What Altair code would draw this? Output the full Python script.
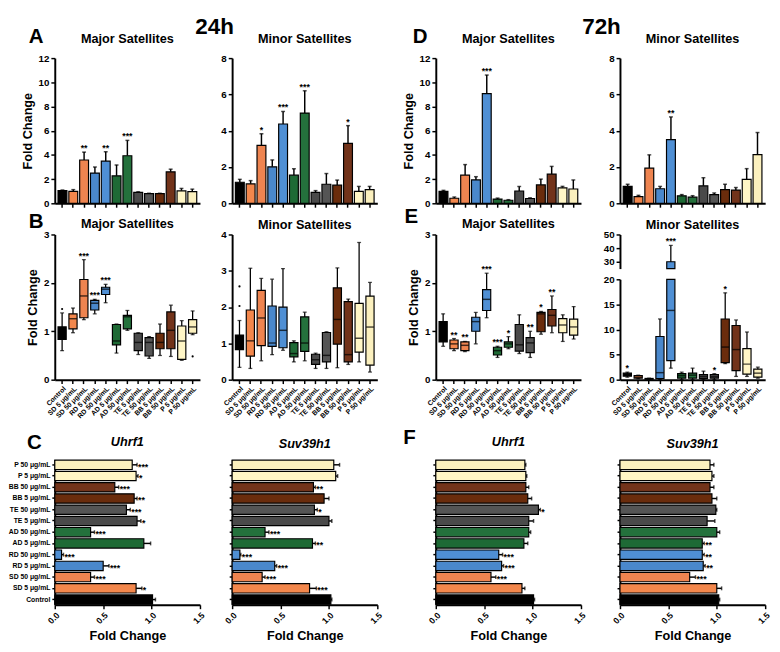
import altair as alt
import pandas as pd

FONT = "Liberation Sans"

cats = ["Control", "SD 5 μg/mL", "SD 50 μg/mL", "RD 5 μg/mL", "RD 50 μg/mL",
        "AD 5 μg/mL", "AD 50 μg/mL", "TE 5 μg/mL", "TE 50 μg/mL",
        "BB 5 μg/mL", "BB 50 μg/mL", "P 5 μg/mL", "P 50 μg/mL"]
colors = ["#000000", "#F3874C", "#EE8450", "#4A88CC", "#4F8FD4", "#1E6A35", "#24713C",
          "#4A4A4A", "#555555", "#6A2C0C", "#72331A", "#FFF6C6", "#FBF0BE"]
letters = ["A", "B", "C", "D", "E", "F"]
group_titles = ["24h", "72h"]
sat_titles = ["Major Satellites", "Minor Satellites"]
gene_titles = ["Uhrf1", "Suv39h1"]
ytitle = "Fold Change"

# ---- Row A / D : bar charts (mean, error, significance)
a_maj_mean = [1.05, 0.98, 3.58, 2.50, 3.48, 2.27, 3.93, 0.90, 0.80, 0.80, 2.60, 1.03, 0.97]
a_maj_err = [0.05, 0.15, 0.65, 0.50, 0.78, 0.90, 1.27, 0.05, 0.03, 0.03, 0.22, 0.20, 0.20]
a_maj_sig = ["", "", "**", "", "**", "", "***", "", "", "", "", "", ""]
a_min_mean = [1.16, 1.07, 3.19, 2.01, 4.37, 1.55, 4.97, 0.60, 1.05, 1.00, 3.30, 0.66, 0.75]
a_min_err = [0.16, 0.18, 0.64, 0.38, 0.69, 0.35, 1.23, 0.10, 0.59, 0.28, 0.98, 0.27, 0.18]
a_min_sig = ["", "", "*", "", "***", "", "***", "", "", "", "*", "", ""]
d_maj_mean = [0.99, 0.42, 2.33, 1.93, 9.07, 0.35, 0.25, 1.02, 0.40, 1.52, 2.41, 1.28, 1.18]
d_maj_err = [0.08, 0.10, 0.87, 0.27, 1.53, 0.08, 0.05, 0.37, 0.05, 0.48, 0.64, 0.12, 0.75]
d_maj_sig = ["", "", "", "", "***", "", "", "", "", "", "", "", ""]
d_min_mean = [0.93, 0.37, 1.94, 0.80, 3.51, 0.41, 0.34, 0.96, 0.48, 0.75, 0.73, 1.32, 2.68]
d_min_err = [0.12, 0.07, 0.73, 0.13, 1.25, 0.07, 0.08, 0.45, 0.09, 0.30, 0.14, 0.59, 1.22]
d_min_sig = ["", "", "", "", "**", "", "", "", "", "", "", "", ""]

# ---- Row B / E : box plots (whisker low, q1, median, q3, whisker high)
b_maj_lo = [0.60, 0.97, 1.24, 1.36, 1.59, 0.55, 1.02, 0.52, 0.44, 0.50, 0.48, 0.40, 0.93]
b_maj_q1 = [0.83, 1.05, 1.28, 1.44, 1.76, 0.72, 1.05, 0.60, 0.49, 0.64, 0.64, 0.42, 0.96]
b_maj_med = [0.97, 1.26, 1.73, 1.58, 1.87, 0.80, 1.30, 0.77, 0.77, 0.77, 1.02, 0.80, 1.09]
b_maj_q3 = [1.09, 1.36, 2.07, 1.64, 1.91, 1.14, 1.33, 0.96, 0.87, 0.96, 1.40, 1.11, 1.24]
b_maj_hi = [1.38, 1.48, 2.48, 1.66, 1.97, 1.15, 1.43, 0.97, 0.89, 1.15, 1.54, 1.22, 1.42]
b_maj_sig = ["", "", "***", "***", "***", "", "", "", "", "", "", "", ""]
b_maj_out_cat = ["Control", "P 50 μg/mL"]
b_maj_out_val = [1.46, 0.48]

b_min_lo = [0.34, 0.31, 0.52, 0.69, 0.81, 0.49, 0.52, 0.31, 0.31, 0.33, 0.42, 0.49, 0.21]
b_min_q1 = [0.83, 0.65, 0.94, 0.92, 0.88, 0.63, 0.78, 0.42, 0.49, 0.98, 0.49, 0.76, 0.40]
b_min_med = [1.05, 1.07, 1.70, 1.01, 1.36, 0.72, 1.01, 0.55, 0.67, 1.66, 0.69, 1.14, 1.45]
b_min_q3 = [1.23, 1.92, 2.46, 2.03, 2.00, 1.02, 1.73, 0.70, 1.30, 2.53, 2.15, 2.10, 2.30]
b_min_hi = [1.63, 3.07, 2.79, 2.77, 3.06, 1.07, 1.86, 0.73, 1.32, 3.08, 2.22, 3.78, 2.68]
b_min_sig = ["", "", "", "", "", "", "", "", "", "", "", "", ""]
b_min_out_cat = ["Control", "Control"]
b_min_out_val = [2.57, 2.03]

e_maj_lo = [0.69, 0.60, 0.58, 0.74, 1.28, 0.46, 0.64, 0.54, 0.46, 0.94, 0.97, 0.79, 0.84]
e_maj_q1 = [0.78, 0.64, 0.60, 1.00, 1.43, 0.51, 0.67, 0.59, 0.56, 0.99, 1.11, 0.97, 0.92]
e_maj_med = [1.00, 0.74, 0.71, 1.20, 1.66, 0.60, 0.74, 0.72, 0.76, 1.36, 1.33, 1.13, 1.09]
e_maj_q3 = [1.20, 0.82, 0.78, 1.29, 1.86, 0.67, 0.78, 1.14, 0.87, 1.39, 1.45, 1.26, 1.25]
e_maj_hi = [1.36, 0.85, 0.79, 1.39, 2.20, 0.69, 0.89, 1.34, 1.00, 1.41, 1.73, 1.34, 1.51]
e_maj_sig = ["", "**", "**", "", "***", "***", "*", "", "**", "*", "**", "", ""]

e_min_lo = [0.50, 0.20, 0.05, 0.00, 2.3, 0.00, 0.00, 0.00, 0.00, 3.2, 0.65, 0.65, 0.30]
e_min_q1 = [0.70, 0.30, 0.10, 0.20, 3.8, 0.30, 0.30, 0.20, 0.30, 3.4, 1.80, 1.10, 0.50]
e_min_med = [1.00, 0.50, 0.15, 1.40, 13.8, 0.80, 0.90, 0.60, 0.60, 6.5, 6.00, 3.10, 1.30]
e_min_q3 = [1.30, 0.80, 0.25, 8.60, 30.0, 1.20, 1.30, 1.00, 1.00, 12.1, 10.8, 6.20, 2.10]
e_min_hi = [1.50, 0.90, 0.30, 12.1, 42.0, 1.50, 2.30, 1.70, 1.20, 17.3, 11.9, 9.50, 2.50]
e_min_sig = ["*", "", "", "", "***", "", "", "", "*", "*", "", "", ""]

# ---- Row C / F : horizontal bars
c_u_mean = [1.01, 0.84, 0.37, 0.50, 0.07, 0.92, 0.37, 0.85, 0.74, 0.82, 0.62, 0.84, 0.80]
c_u_err = [0.03, 0.06, 0.04, 0.06, 0.02, 0.07, 0.04, 0.04, 0.04, 0.03, 0.04, 0.02, 0.05]
c_u_sig = ["", "*", "***", "***", "***", "", "***", "*", "***", "**", "***", "*", "***"]
c_s_mean = [1.02, 0.80, 0.31, 0.44, 0.08, 0.83, 0.34, 1.00, 0.85, 0.95, 0.84, 1.07, 1.05]
c_s_err = [0.01, 0.07, 0.03, 0.02, 0.01, 0.03, 0.04, 0.03, 0.03, 0.05, 0.02, 0.02, 0.06]
c_s_sig = ["", "***", "***", "***", "***", "**", "***", "", "*", "", "**", "", ""]
f_u_mean = [1.01, 0.89, 0.57, 0.68, 0.65, 0.91, 0.96, 0.96, 1.06, 0.95, 0.93, 0.93, 0.92]
f_u_err = [0.01, 0.03, 0.05, 0.02, 0.04, 0.04, 0.02, 0.05, 0.02, 0.04, 0.03, 0.01, 0.01]
f_u_sig = ["", "", "***", "***", "***", "", "", "", "*", "", "", "", ""]
f_s_mean = [1.02, 1.00, 0.72, 0.86, 0.85, 0.85, 1.00, 0.90, 0.99, 0.95, 0.93, 0.95, 0.93]
f_s_err = [0.01, 0.05, 0.06, 0.02, 0.02, 0.02, 0.03, 0.08, 0.01, 0.05, 0.04, 0.02, 0.04]
f_s_sig = ["", "", "***", "**", "**", "**", "", "", "", "", "", "", ""]

W = 149          # plot width
H = 149          # plot height
HB = 199         # box-row view height (plot 149 + room for rotated labels)
BOLD = "bold"
LFS = 21         # panel letter font size
GFS = 23         # 24h / 72h font size

fill_enc = alt.Fill("cat:N", scale=alt.Scale(domain=cats, range=colors), legend=None)


def xband(labels, pi, offset=0):
    return alt.X("cat:N", scale=alt.Scale(domain=cats, paddingInner=pi, paddingOuter=0.3),
                 axis=alt.Axis(title=None, labels=labels, labelAngle=-45, labelFontSize=7,
                               tickSize=4, labelPadding=1, offset=offset))


def annot_layers(annots):
    out = []
    for (t, dx, dy, fs) in annots:
        out.append(alt.Chart(pd.DataFrame({"t": [t]})).mark_text(
            fontSize=fs, fontWeight=BOLD, font=FONT, align="center", baseline="middle", color="black"
        ).encode(text="t:N", x=alt.value(dx), y=alt.value(dy)))
    return out


def ptitle(text, offset, annots=None, top=-5, italic=False):
    # annotation text drawn above the plot enlarges the view bounds; compensate the title offset
    if annots:
        ltop = min(a[2] - a[3] / 2 for a in annots)
        if ltop < top:
            offset = offset + (ltop - top)
    kw = dict(fontSize=13, offset=offset, anchor="middle")
    if italic:
        kw["fontStyle"] = "italic"
    return alt.TitleParams(text, **kw)


def bar_panel(mean, err, sig, ymax, ystep, title, ytl, annots=None):
    df = pd.DataFrame({"cat": cats, "mean": mean, "err": err, "sig": sig})
    df["top"] = df["mean"] + df["err"]
    yax = alt.Axis(title=ytl, values=list(range(0, ymax + 1, ystep)), labelFontSize=10,
                   titleFontSize=13, tickSize=4, titlePadding=4, labelPadding=2)
    ysc = alt.Scale(domain=[0, ymax], nice=False)
    x = xband(False, 0.18)
    base = alt.Chart(df)
    rule = base.mark_rule(color="black", strokeWidth=1.5).encode(
        x=x, y=alt.Y("mean:Q", scale=ysc, axis=yax), y2="top:Q")
    bars = base.mark_bar(stroke="black", strokeWidth=1.2).encode(
        x=x, y=alt.Y("mean:Q", scale=ysc, axis=yax), fill=fill_enc)
    cap = base.mark_tick(color="black", thickness=1.5, size=4).encode(
        x=x, y=alt.Y("top:Q", scale=ysc, axis=yax))
    txt = base.mark_text(fontSize=9, fontWeight=BOLD, baseline="bottom", dy=1).encode(
        x=x, y=alt.Y("top:Q", scale=ysc, axis=yax), text="sig:N")
    layers = [rule, bars, cap, txt] + annot_layers(annots or [])
    return alt.layer(*layers).properties(width=W, height=H, title=ptitle(title, 8, annots))


def box_layers(df, out, ysc, yax, flt=None):
    """flt: dict of filters per layer name (for the broken axis)."""
    flt = flt or {}
    x = xband(True, 0.25, offset=-(HB - H))
    Y = lambda f: alt.Y(f, scale=ysc, axis=yax)

    def b(name):
        c = alt.Chart(df)
        if name in flt:
            c = c.transform_filter(flt[name])
        return c
    whisk = b("box").mark_rule(color="black", strokeWidth=1.3).encode(x=x, y=Y("lo:Q"), y2="hi:Q")
    box = b("box").mark_bar(stroke="black", strokeWidth=1.2).encode(
        x=x, y=Y("q1:Q"), y2="q3:Q", fill=fill_enc)
    med = b("med").mark_tick(color="black", thickness=1.5, size=8).encode(x=x, y=Y("med:Q"))
    caphi = b("hi").mark_tick(color="black", thickness=1.3, size=4).encode(x=x, y=Y("hi:Q"))
    caplo = b("lo").mark_tick(color="black", thickness=1.3, size=4).encode(x=x, y=Y("lo:Q"))
    txt = b("txt").mark_text(fontSize=9, fontWeight=BOLD, baseline="bottom", dy=1).encode(
        x=x, y=Y("hi:Q"), text="sig:N")
    layers = [whisk, box, med, caphi, caplo, txt]
    if out is not None:
        pts = alt.Chart(out).mark_circle(color="black", size=5, opacity=1).encode(x=x, y=Y("val:Q"))
        layers.append(pts)
    return layers


def box_panel(lo, q1, med, q3, hi, sig, ymax, ystep, title, ytl, out_cat=None, out_val=None, annots=None):
    df = pd.DataFrame({"cat": cats, "lo": lo, "q1": q1, "med": med, "q3": q3, "hi": hi, "sig": sig})
    out = None
    if out_cat:
        out = pd.DataFrame({"cat": out_cat, "val": out_val})
    yax = alt.Axis(title=ytl, values=list(range(0, ymax + 1, ystep)), labelFontSize=10,
                   titleFontSize=13, tickSize=4, titlePadding=4, labelPadding=2)
    ysc = alt.Scale(domain=[0, ymax], range=[H, 0], nice=False)
    layers = box_layers(df, out, ysc, yax) + annot_layers(annots or [])
    return alt.layer(*layers).properties(width=W, height=HB, title=ptitle(title, -2, annots))


def broken_box_panel(lo, q1, med, q3, hi, sig, title):
    df = pd.DataFrame({"cat": cats, "lo": lo, "q1": q1, "med": med, "q3": q3, "hi": hi, "sig": sig})
    yax_t = alt.Axis(title=None, values=[30, 40, 50], labelFontSize=10, tickSize=4, labelPadding=2, orient="left")
    ysc_t = alt.Scale(domain=[25, 50], range=[35, 0], nice=False, clamp=True)
    top = alt.layer(*box_layers(df, None, ysc_t, yax_t, flt={
        "box": "datum.hi > 25", "med": "datum.med >= 25", "hi": "datum.hi >= 25",
        "lo": "datum.lo >= 25", "txt": "datum.hi > 25"}))
    yax_b = alt.Axis(title=None, values=[0, 5, 10, 15, 20], labelFontSize=10, tickSize=4, labelPadding=2,
                     orient="left")
    ysc_b = alt.Scale(domain=[0, 20], range=[H, 46], nice=False, clamp=True)
    bot = alt.layer(*box_layers(df, None, ysc_b, yax_b, flt={
        "med": "datum.med <= 20", "hi": "datum.hi <= 20", "lo": "datum.lo <= 20", "txt": "datum.hi < 20"}))
    return alt.layer(top, bot).resolve_scale(y="independent").properties(
        width=W, height=HB, title=ptitle(title, -2))


def hbar_panel(mean, err, sig, title, labels, annots=None):
    df = pd.DataFrame({"cat": cats, "mean": mean, "err": err, "sig": sig})
    df["top"] = df["mean"] + df["err"]
    y = alt.Y("cat:N", scale=alt.Scale(domain=cats[::-1], paddingInner=0.17, paddingOuter=0.05),
              axis=alt.Axis(title=None, labels=labels, labelFontSize=7, tickSize=3, labelPadding=2))
    xax = alt.Axis(title=ytitle, values=[0, 0.5, 1, 1.5], format=".1f", labelAngle=-45, labelFontSize=9,
                   titleFontSize=13, tickSize=4, titlePadding=4)
    xsc = alt.Scale(domain=[0, 1.5], nice=False)
    base = alt.Chart(df)
    rule = base.mark_rule(color="black", strokeWidth=1.5).encode(
        y=y, x=alt.X("mean:Q", scale=xsc, axis=xax), x2="top:Q")
    bars = base.mark_bar(stroke="black", strokeWidth=1.2).encode(
        y=y, x=alt.X("mean:Q", scale=xsc, axis=xax), fill=fill_enc)
    cap = base.mark_tick(color="black", thickness=1.5, size=4).encode(
        y=y, x=alt.X("top:Q", scale=xsc, axis=xax))
    txt = base.mark_text(fontSize=9, fontWeight=BOLD, align="left", baseline="middle", dx=1, dy=2).encode(
        y=y, x=alt.X("top:Q", scale=xsc, axis=xax), text="sig:N")
    layers = [rule, bars, cap, txt] + annot_layers(annots or [])
    return alt.layer(*layers).properties(width=W, height=H,
                                         title=ptitle(title, 9, annots, top=-1, italic=True))


# ---------- 24h group
A1 = bar_panel(a_maj_mean, a_maj_err, a_maj_sig, 12, 2, sat_titles[0], ytitle,
               [(letters[0], -19, -21, LFS), (group_titles[0], 164, -32, GFS)])
A2 = bar_panel(a_min_mean, a_min_err, a_min_sig, 8, 2, sat_titles[1], None)
B1 = box_panel(b_maj_lo, b_maj_q1, b_maj_med, b_maj_q3, b_maj_hi, b_maj_sig, 3, 1, sat_titles[0], ytitle,
               b_maj_out_cat, b_maj_out_val, [(letters[1], -19, -13, LFS)])
B2 = box_panel(b_min_lo, b_min_q1, b_min_med, b_min_q3, b_min_hi, b_min_sig, 4, 1, sat_titles[1], None,
               b_min_out_cat, b_min_out_val)
C1 = hbar_panel(c_u_mean, c_u_err, c_u_sig, gene_titles[0], True, [(letters[2], -21, -17, LFS)])
C2 = hbar_panel(c_s_mean, c_s_err, c_s_sig, gene_titles[1], False)

# ---------- 72h group
D1 = bar_panel(d_maj_mean, d_maj_err, d_maj_sig, 12, 2, sat_titles[0], ytitle,
               [(letters[3], -16, -21, LFS), (group_titles[1], 170, -32, GFS)])
D2 = bar_panel(d_min_mean, d_min_err, d_min_sig, 8, 2, sat_titles[1], None)
E1 = box_panel(e_maj_lo, e_maj_q1, e_maj_med, e_maj_q3, e_maj_hi, e_maj_sig, 3, 1, sat_titles[0], ytitle,
               annots=[(letters[4], -25, -18, LFS)])
E2 = broken_box_panel(e_min_lo, e_min_q1, e_min_med, e_min_q3, e_min_hi, e_min_sig, sat_titles[1])
F1 = hbar_panel(f_u_mean, f_u_err, f_u_sig, gene_titles[0], False, [(letters[5], -27, -22, LFS)])
F2 = hbar_panel(f_s_mean, f_s_err, f_s_sig, gene_titles[1], False)


def group(panels, colgap):
    return alt.concat(*panels, columns=2, spacing={"row": 32, "column": colgap}, bounds="flush")


g24 = group([A1, A2, B1, B2, C1, C2], 33)
g72 = group([D1, D2, E1, E2, F1, F2], 40)

chart = alt.hconcat(g24, g72, spacing=18).properties(
    padding={"left": 0, "top": 0, "right": 0, "bottom": 0}
).configure_view(stroke=None).configure_axis(
    grid=False, domainColor="black", domainWidth=2, tickColor="black", tickWidth=1.5,
    labelFont=FONT, labelFontWeight=BOLD, labelColor="black",
    titleFont=FONT, titleFontWeight=BOLD, titleColor="black"
).configure_title(font=FONT, fontWeight=BOLD, color="black").configure_text(font=FONT, color="black")

chart.save("out.html", embed_options={"renderer": "svg", "actions": False})
